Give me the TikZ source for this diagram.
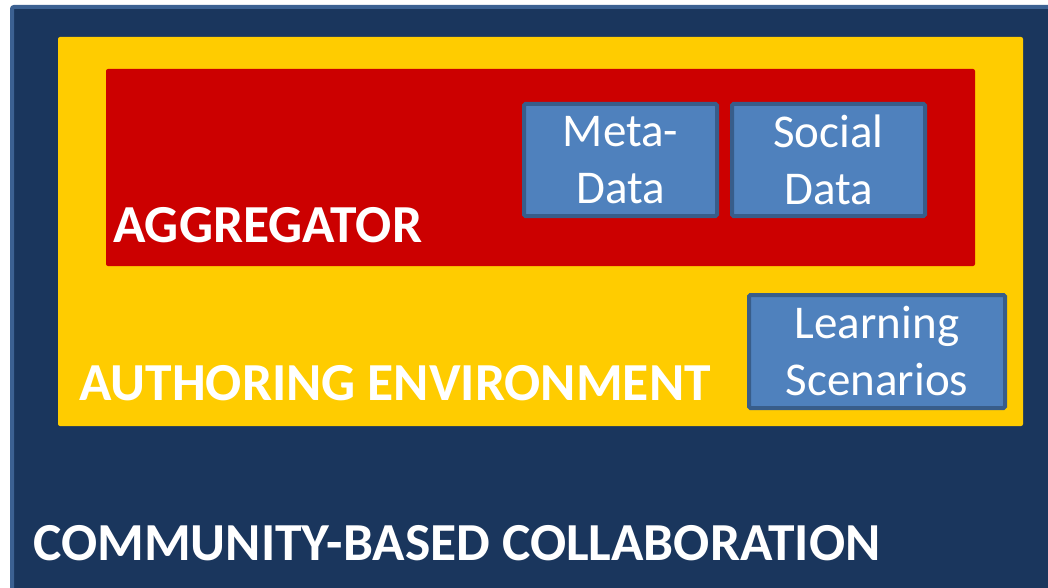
\documentclass[tikz,border=0pt]{standalone}
\usepackage{fontspec}
\setmainfont{Carlito}
\usepackage{tikz}
\usetikzlibrary{positioning}

\definecolor{navy}{HTML}{1A365D}
\definecolor{navyedge}{HTML}{3C6192}
\definecolor{gold}{HTML}{FFCC00}
\definecolor{crimson}{HTML}{CC0000}
\definecolor{tile}{HTML}{4F81BD}
\definecolor{tileedge}{HTML}{385D8A}

\tikzset{
  layer/.style={rounded corners=2pt},
  tile/.style={draw=tileedge, fill=tile, line width=4pt, rounded corners=1.5pt,
    text=white, align=center, font=\fontsize{47}{57}\selectfont, inner sep=0pt},
  caption/.style={anchor=base west, inner sep=0pt, text=white,
    font=\fontsize{53.5}{64}\selectfont\bfseries}
}

\begin{document}
\begin{tikzpicture}[x=1pt, y=-1pt]
\useasboundingbox (0,0) rectangle (1048,588);
\clip (0,0) rectangle (1048,588);
% nested layers
\draw[layer, draw=navyedge, fill=navy, line width=4pt] (12,7) rectangle (1070,610);
\fill[layer, gold] (58,37) rectangle (1023,426);
\fill[layer, crimson] (106,69) rectangle (975,266);
% data tiles
\node[tile, minimum width=193pt, minimum height=112pt] (meta) at (620.5,160) {Meta-\\Data};
\node[tile, minimum width=193pt, minimum height=112pt] (social) at (828.5,160) {Social\\Data};
\node[tile, minimum width=256pt, minimum height=113pt] (scen) at (877,351.5) {Learning\\Scenarios};
% layer captions
\node[caption] (agg) at (113,242) {AGGREGATOR};
\node[caption] (auth) at (79,400) {AUTHORING ENVIRONMENT};
\node[caption] (comm) at (33,560) {COMMUNITY-BASED COLLABORATION};
\end{tikzpicture}
\end{document}
